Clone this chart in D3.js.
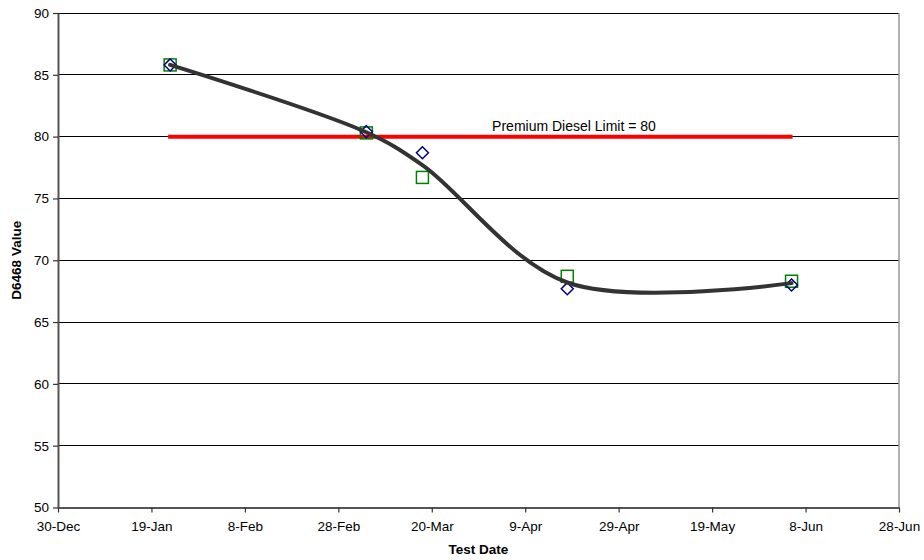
<!DOCTYPE html>
<html><head><meta charset="utf-8">
<script src="https://cdn.jsdelivr.net/npm/d3@7"></script>
<style>body{margin:0;background:#fff}svg{display:block}text{font-family:"Liberation Sans",Arial,sans-serif}</style>
</head><body>
<svg id="c" width="924" height="560"></svg>
<script>
const testDates = ["2005-01-23","2005-03-06","2005-03-18","2005-04-18","2005-06-05"];
const seriesDiamond = [85.8, 80.4, 78.7, 67.7, 68.0];
const seriesSquare = [85.8, 80.3, 76.7, 68.7, 68.3];
const trendValues = [85.8, 80.35, 77.7, 68.2, 68.15];
const limitValue = 80;
const limitLabel = "Premium Diesel Limit = 80";
const xTickDates = ["2004-12-30","2005-01-19","2005-02-08","2005-02-28","2005-03-20","2005-04-09","2005-04-29","2005-05-19","2005-06-08","2005-06-28"];
const yTicks = [50,55,60,65,70,75,80,85,90];

const P = d3.utcParse("%Y-%m-%d");
const svg = d3.select("#c");
const L = 58, R = 899, T = 13, B = 507.5;
const x = d3.scaleUtc().domain([P(xTickDates[0]), P(xTickDates[xTickDates.length-1])]).range([L, R]);
const y = d3.scaleLinear().domain([50, 90]).range([B, T]);
const FS = 13.5;

// gridlines
svg.append("g").selectAll("line").data(yTicks.filter(v=>v>50)).join("line")
  .attr("x1", L).attr("x2", R).attr("y1", d=>y(d)).attr("y2", d=>y(d))
  .attr("stroke", "#000").attr("stroke-width", 1).attr("shape-rendering","crispEdges");
// right border
svg.append("line").attr("x1", R).attr("x2", R).attr("y1", T).attr("y2", B)
  .attr("stroke", "#999").attr("stroke-width", 1.5);

// axes
const fmt = d3.utcFormat("%-d-%b");
const xAxis = svg.append("g").attr("transform", `translate(0,${B})`)
  .call(d3.axisBottom(x).tickValues(xTickDates.map(P)).tickFormat(fmt).tickSize(5).tickSizeOuter(0).tickPadding(14));
const yAxis = svg.append("g").attr("transform", `translate(${L},0)`)
  .call(d3.axisLeft(y).tickValues(yTicks).tickSize(5).tickSizeOuter(0).tickPadding(4));
[xAxis, yAxis].forEach(a => {
  a.select(".domain").attr("stroke", "#555").attr("stroke-width", 2);
  a.selectAll(".tick line").attr("stroke", "#333").attr("stroke-width", 1.2);
  a.selectAll(".tick text").attr("font-size", FS).attr("fill", "#000").style("font-family", '"Liberation Sans",Arial,sans-serif');
});
xAxis.selectAll(".tick text").attr("dy", "0.3em");

// limit line
const d0 = P(testDates[0]), d1 = P(testDates[testDates.length-1]);
svg.append("line").attr("x1", x(d0)-2).attr("x2", x(d1)+1).attr("y1", y(limitValue)).attr("y2", y(limitValue))
  .attr("stroke", "#ff0000").attr("stroke-width", 4);
svg.append("text").attr("x", 574).attr("y", y(limitValue)-6).attr("text-anchor", "middle")
  .attr("font-size", 14).text(limitLabel);

const pts = testDates.map((d,i)=>({d:P(d), a:seriesDiamond[i], b:seriesSquare[i], t:trendValues[i]}));

// squares
svg.append("g").selectAll("rect").data(pts).join("rect")
  .attr("x", d=>x(d.d)-6).attr("y", d=>y(d.b)-6).attr("width", 12).attr("height", 12)
  .attr("fill", "none").attr("stroke", "#008000").attr("stroke-width", 1.5);
// diamonds
svg.append("g").selectAll("path").data(pts).join("path")
  .attr("d", d=>{const cx=x(d.d), cy=y(d.a), r=6; return `M${cx},${cy-r}L${cx+r},${cy}L${cx},${cy+r}L${cx-r},${cy}Z`;})
  .attr("fill", "none").attr("stroke", "#000080").attr("stroke-width", 1.5);

// smoothed trend
const line = d3.line().x(d=>x(d.d)).y(d=>y(d.t)).curve(d3.curveCatmullRom.alpha(0.5));
svg.append("path").datum(pts).attr("d", line).attr("fill","none")
  .attr("stroke", "#333").attr("stroke-width", 4).attr("stroke-linecap","round");

// axis titles
svg.append("text").attr("x", (L+R)/2).attr("y", 554).attr("text-anchor","middle")
  .attr("font-size", FS).attr("font-weight","bold").text("Test Date");
svg.append("text").attr("transform", `translate(21,${(T+B)/2}) rotate(-90)`).attr("text-anchor","middle")
  .attr("font-size", FS).attr("font-weight","bold").text("D6468 Value");
</script>
</body></html>
